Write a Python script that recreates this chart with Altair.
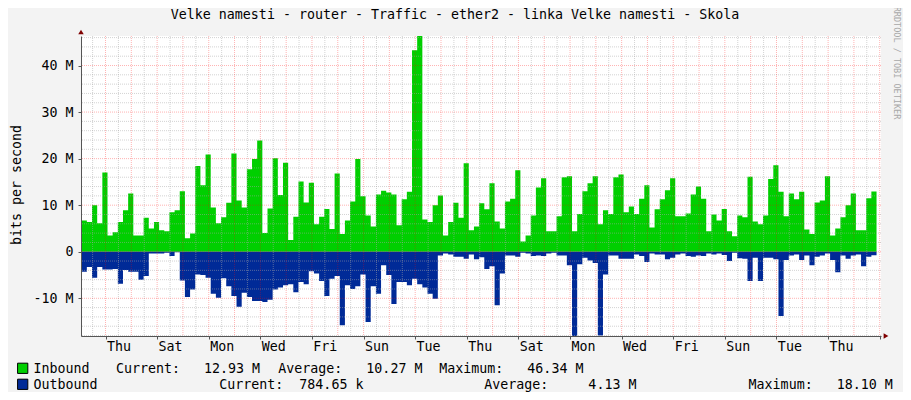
import altair as alt
import pandas as pd

# ---------------- data ----------------
title_text = "Velke namesti - router - Traffic - ether2 - linka Velke namesti - Skola"
y_title = "bits per second"
watermark = "RRDTOOL / TOBI OETIKER"
day_names = ["Thu", "Fri", "Sat", "Sun", "Mon", "Tue", "Wed"]   # day 0 = Thu

# Inbound traffic (M bits/s), one value per 0.2-day step
inbound = [
    6.7, 6.4, 10.0, 6.1, 17.0, 3.5, 4.2, 6.4, 8.9, 12.5,
    3.5, 3.5, 7.3, 5.0, 6.4, 4.6, 4.4, 8.5, 8.9, 13.0,
    2.9, 3.9, 18.4, 14.3, 20.9, 9.5, 6.1, 7.4, 10.5, 21.1,
    11.0, 9.5, 17.7, 19.9, 23.9, 4.0, 9.3, 20.1, 12.2, 19.1,
    2.5, 7.5, 15.1, 10.6, 14.8, 5.9, 7.5, 9.2, 4.9, 16.8,
    3.8, 6.7, 10.8, 19.9, 11.9, 7.8, 5.4, 12.3, 13.1, 12.7,
    12.3, 5.7, 11.3, 12.9, 43.3, 46.34, 6.9, 6.4, 10.0, 12.1,
    3.5, 6.4, 10.5, 7.3, 19.0, 4.6, 5.4, 10.4, 9.1, 14.7,
    6.5, 5.0, 10.8, 11.4, 17.5, 2.2, 3.5, 7.8, 13.8, 15.8,
    4.4, 4.4, 7.6, 16.0, 16.2, 4.4, 8.1, 13.0, 14.7, 16.2,
    5.9, 8.9, 8.1, 16.0, 16.6, 8.5, 9.7, 8.1, 11.4, 14.3,
    5.2, 9.1, 11.3, 13.2, 15.8, 7.6, 7.6, 8.2, 12.3, 14.0,
    11.4, 4.4, 8.0, 6.7, 9.2, 4.4, 3.3, 7.8, 7.4, 16.1,
    6.5, 5.9, 7.8, 15.6, 18.6, 12.9, 7.6, 12.5, 11.3, 12.9,
    4.8, 3.8, 10.6, 11.0, 16.2, 3.5, 5.0, 7.4, 10.0, 12.5,
    4.6, 4.6, 11.5, 12.93,
]
# Outbound traffic (M bits/s), drawn below zero
outbound = [
    -4.3, -3.3, -5.6, -3.3, -3.8, -3.8, -3.7, -6.9, -3.9, -4.3,
    -4.3, -6.0, -5.2, -0.4, -0.4, -0.4, -0.2, -0.9, -0.1, -6.2,
    -9.7, -8.1, -4.9, -5.0, -5.6, -9.0, -9.9, -5.7, -7.4, -9.5,
    -11.8, -8.8, -9.7, -10.6, -10.6, -10.8, -10.3, -8.1, -7.7, -7.2,
    -7.0, -8.7, -6.5, -7.0, -4.2, -4.7, -6.3, -9.5, -5.8, -5.2,
    -15.8, -7.2, -8.0, -7.4, -4.9, -15.1, -7.4, -9.0, -2.9, -5.0,
    -11.2, -6.5, -6.5, -7.2, -5.8, -7.0, -7.7, -9.0, -10.1, -0.8,
    -0.4, -0.6, -1.1, -1.1, -1.5, -0.6, -1.6, -1.2, -3.7, -3.1,
    -11.5, -4.7, -0.8, -0.8, -1.1, -0.2, -0.4, -0.9, -0.8, -0.9,
    -0.4, -0.2, -0.8, -0.8, -2.9, -18.10, -2.7, -1.3, -1.9, -2.4,
    -18.0, -4.9, -0.8, -0.8, -1.5, -1.5, -1.5, -0.6, -0.9, -2.2,
    -0.4, -0.6, -0.6, -1.6, -1.3, -0.6, -0.4, -0.9, -1.1, -0.8,
    -0.9, -0.4, -0.6, -0.4, -0.7, -2.0, -0.2, -1.4, -1.5, -6.3,
    -1.3, -6.3, -1.3, -1.3, -1.6, -13.8, -1.8, -0.8, -0.6, -1.8,
    -0.8, -2.9, -1.1, -0.8, -0.4, -1.8, -4.4, -0.8, -1.5, -0.8,
    -0.6, -3.1, -1.1, -0.78,
]

legend_names = ["Inbound", "Outbound"]
legend_in = ["Current:   12.93 M", "Average:   10.27 M", "Maximum:   46.34 M"]
legend_out = ["Current:  784.65 k", "Average:     4.13 M", "Maximum:   18.10 M"]

y_ticks = [-10, 0, 10, 20, 30, 40]
first_step = -0.923      # days relative to Thu 00:00
step_days = 0.2
x_domain = [-0.95, 30.05]
y_domain = [-18.10, 46.34]

# ---------------- styles ----------------
FONT = "DejaVu Sans Mono"
FS = 13.3
GREEN = "#00CF00"
BLUE = "#002A97"
AXIS_C = "#555555"
ARROW_C = "#7F0000"
W, H = 800, 300
NB = "\u00a0"

n = len(inbound)
t = [first_step + i * step_days for i in range(n)] + [first_step + n * step_days]
df = pd.DataFrame({"t": t, "inb": inbound + [inbound[-1]], "outb": outbound + [outbound[-1]]})

xscale = alt.Scale(domain=x_domain, nice=False, zero=False)
yscale = alt.Scale(domain=y_domain, nice=False, zero=False)

arr = "[" + ",".join(f"'{d}'" for d in day_names) + "]"
xaxis = alt.Axis(
    values=list(range(0, 31)),
    labelExpr=f"datum.value % 2 == 0 && datum.value < 29 ? {arr}[datum.value % 7] : ''",
    labelOffset=W / 31 / 2, tickSize=3, tickColor=AXIS_C, domainColor=AXIS_C,
    grid=False, title=None, labelFont=FONT, labelFontSize=FS, labelColor="black",
    labelPadding=0, labelOverlap=False, labelFlush=False, zindex=2,
)
yaxis = alt.Axis(
    values=y_ticks,
    labelExpr="datum.value == 0 ? '0' : datum.value + ' M'",
    tickSize=3, tickColor=AXIS_C, domainColor=AXIS_C, grid=False, title=None,
    labelFont=FONT, labelFontSize=FS, labelColor="black", labelPadding=5,
    labelOverlap=False, labelFlush=False, zindex=2,
)

base = alt.Chart(df)
inb_area = base.mark_area(interpolate="step-after", color=GREEN).encode(
    x=alt.X("t:Q", scale=xscale, axis=xaxis),
    y=alt.Y("inb:Q", scale=yscale, axis=yaxis),
    y2=alt.datum(0),
)
out_area = base.mark_area(interpolate="step-after", color=BLUE).encode(
    x=alt.X("t:Q", scale=xscale, axis=xaxis),
    y=alt.Y("outb:Q", scale=yscale, axis=yaxis),
    y2=alt.datum(0),
)

# grid (drawn over the areas, as RRDtool does)
v_major = pd.DataFrame({"t": list(range(0, 31))})
v_minor = pd.DataFrame({"t": [k + 0.5 for k in range(-1, 30)]})
h_major = pd.DataFrame({"inb": [v for v in range(-10, 47, 10)]})
h_minor = pd.DataFrame({"inb": [v for v in range(-18, 47, 2) if v % 10 != 0]})

gray_kw = dict(color="#A8A8A8", opacity=0.5, strokeDash=[1, 1], strokeWidth=1)
red_kw = dict(color="#FF0000", opacity=0.3, strokeDash=[1, 1], strokeWidth=1)

g1 = alt.Chart(v_minor).mark_rule(**gray_kw).encode(x=alt.X("t:Q", scale=xscale, axis=xaxis))
g2 = alt.Chart(h_minor).mark_rule(**gray_kw).encode(y=alt.Y("inb:Q", scale=yscale, axis=yaxis))
g3 = alt.Chart(v_major).mark_rule(**red_kw).encode(x=alt.X("t:Q", scale=xscale, axis=xaxis))
g4 = alt.Chart(h_major).mark_rule(**red_kw).encode(y=alt.Y("inb:Q", scale=yscale, axis=yaxis))

# axis arrows
arrow_up = alt.Chart(pd.DataFrame({"a": [0]})).mark_point(
    shape="triangle-up", filled=True, color=ARROW_C, size=30, opacity=1, yOffset=-4
).encode(x=alt.datum(x_domain[0]), y=alt.datum(y_domain[1]))
arrow_right = alt.Chart(pd.DataFrame({"a": [0]})).mark_point(
    shape="triangle-right", filled=True, color=ARROW_C, size=30, opacity=1, xOffset=5
).encode(x=alt.datum(x_domain[1]), y=alt.datum(y_domain[0]))


def txt(s, x, y, **kw):
    opts = dict(font=FONT, fontSize=FS, align="left", baseline="alphabetic", color="black")
    opts.update(kw)
    return alt.Chart(pd.DataFrame({"s": [s.replace(" ", NB)]})).mark_text(**opts).encode(
        x=alt.value(x), y=alt.value(y), text="s:N"
    )


def sq(color, x, y):
    return alt.Chart(pd.DataFrame({"a": [0]})).mark_square(
        size=105, fill=color, stroke="black", strokeWidth=1, opacity=1
    ).encode(x=alt.value(x), y=alt.value(y))


R1, R2 = 336.7, 352.7
annotations = [
    txt(title_text, 374, -17, align="center"),
    txt(y_title, -60, 149, align="center", angle=270),
    txt(watermark, 816, 27, align="center", baseline="middle", angle=90, fontSize=8.5, color="#A8A8A8"),
    sq(GREEN, -58.3, 332.3),
    sq(BLUE, -58.3, 348.3),
    txt(legend_names[0], -47.5, R1),
    txt(legend_names[1], -47.5, R2),
    txt(legend_in[0], 35, R1),
    txt(legend_in[1], 197.3, R1),
    txt(legend_in[2], 358.3, R1),
    txt(legend_out[0], 138.3, R2),
    txt(legend_out[1], 403.3, R2),
    txt(legend_out[2], 667.6, R2),
]

chart = alt.layer(
    inb_area, out_area, g1, g2, g3, g4, arrow_up, arrow_right, *annotations
).properties(
    width=W, height=H, background="#F3F3F3",
    padding={"left": 73, "top": 28, "right": 22, "bottom": 56},
    autosize=alt.AutoSizeParams(type="none"),
).configure_view(fill="white", stroke=None)

chart.save("out.html", embed_options={"renderer": "svg", "actions": False})
